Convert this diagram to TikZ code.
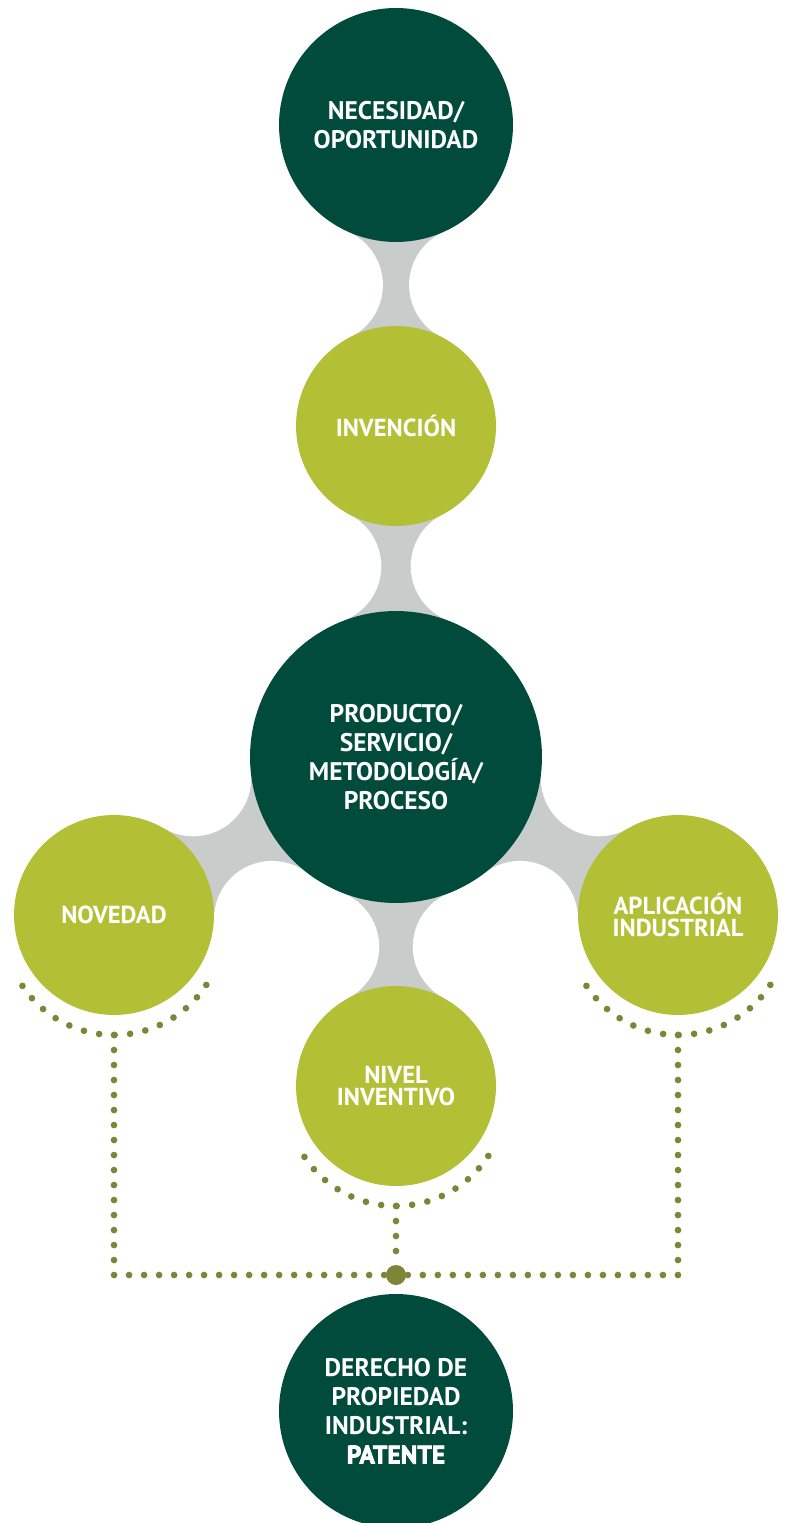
\documentclass[tikz,border=0pt]{standalone}
\usepackage{fontspec}
\setmainfont{PT Sans}
\newfontfamily\heavyfont{PT Sans}[BoldFeatures={FakeBold=3}]
\usetikzlibrary{backgrounds}

\definecolor{pine}{HTML}{004B3C}
\definecolor{lime}{HTML}{B3C035}
\definecolor{neckgray}{HTML}{C8CDCC}
\definecolor{olive}{HTML}{7C8639}

\tikzset{
  ball/.style={circle,inner sep=0pt,text=white,align=center,
    font=\bfseries\fontsize{14.5}{16.5}\selectfont},
  darkball/.style={ball,fill=pine,minimum size=4.68cm},
  limeball/.style={ball,fill=lime,minimum size=4cm,
    font=\bfseries\fontsize{14}{12.5}\selectfont},
  neck/.style={fill=neckgray},
  hole/.style={fill=white},
  dotline/.style={draw=olive,line width=3.8pt,line cap=round,
    dash pattern=on 0pt off 8.54pt},
  dotarc/.style={dotline,dash pattern=on 0pt off 8.85pt}
}

\begin{document}
\begin{tikzpicture}[x=0.02cm,y=-0.02cm]
  \useasboundingbox (0,0) rectangle (788,1523);

  \node[darkball] (need) at (396,125) {NECESIDAD/\\OPORTUNIDAD};
  \node[limeball] (inv) at (396,426) {INVENCIÓN};
  \node[darkball,minimum size=5.84cm] (prod) at (396,757)
    {PRODUCTO/\\SERVICIO/\\METODOLOGÍA/\\PROCESO};
  \node[limeball] (nov) at (114,915) {NOVEDAD};
  \node[limeball] (apl) at (678,915) {APLICACIÓN\\INDUSTRIAL};
  \node[limeball] (niv) at (396,1086) {NIVEL\\INVENTIVO};
  \node[darkball] (pat) at (396,1411)
    {DERECHO DE\\PROPIEDAD\\INDUSTRIAL:\\{\heavyfont PATENTE}};
  \node[circle,fill=olive,minimum size=0.4cm,inner sep=0pt] (join) at (396,1275) {};

  \coordinate (n1l) at (324.9,285);  \coordinate (n1r) at (467.1,285);
  \coordinate (n2l) at (323.3,566.3); \coordinate (n2r) at (468.7,566.3);
  \coordinate (n3a) at (193.2,778.3); \coordinate (n3b) at (272.0,918.9);
  \coordinate (n4a) at (598.8,778.3); \coordinate (n4b) at (520.0,918.9);
  \coordinate (n5l) at (321.2,946.8); \coordinate (n5r) at (470.8,946.8);
  \coordinate (novbot) at (114,1035);
  \coordinate (aplbot) at (678,1035);
  \coordinate (nivbot) at (396,1206);

  \begin{scope}[on background layer]
    \fill[neck] (need.center) -- (n1l) -- (inv.center) -- (n1r) -- cycle;
    \fill[neck] (inv.center) -- (n2l) -- (prod.center) -- (n2r) -- cycle;
    \fill[neck] (prod.center) -- (n3a) -- (nov.center) -- (n3b) -- cycle;
    \fill[neck] (prod.center) -- (n4a) -- (apl.center) -- (n4b) -- cycle;
    \fill[neck] (prod.center) -- (n5l) -- (niv.center) -- (n5r) -- cycle;
    \foreach \c in {n1l,n1r,n2l,n2r,n3a,n3b,n4a,n4b,n5l,n5r}
      \fill[hole] (\c) circle (58);

    \foreach \b in {nov,apl,niv}
      \draw[dotarc] ([shift={(92.3,69.9)}]\b.center) arc[start angle=33,end angle=147,radius=110];
    \draw[dotline] (novbot) |- (join);
    \draw[dotline] (aplbot) |- (join);
    \draw[dotline] (nivbot) -- (join);
  \end{scope}
\end{tikzpicture}
\end{document}
